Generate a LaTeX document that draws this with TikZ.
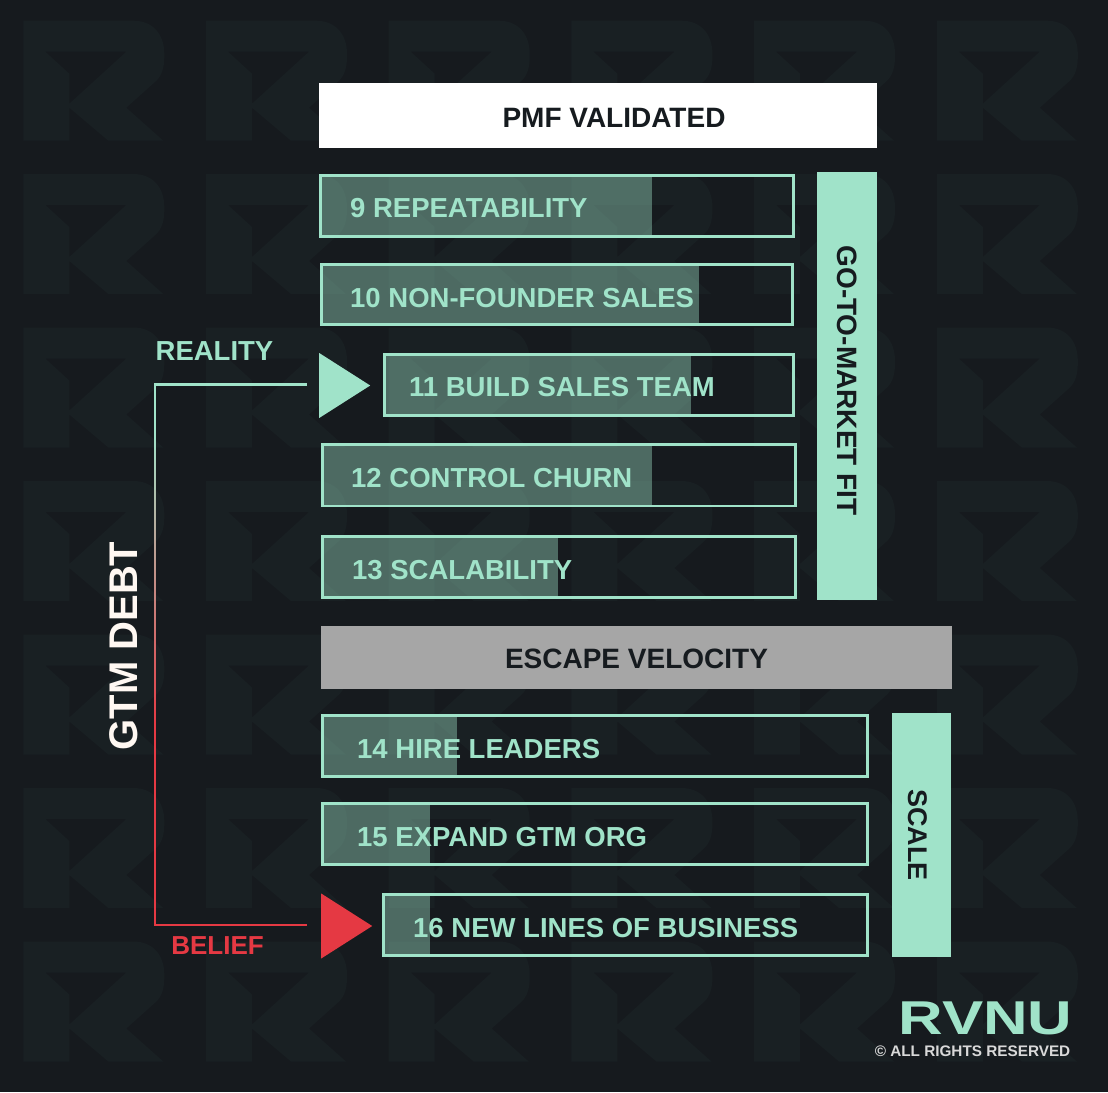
\documentclass[tikz,border=0pt]{standalone}
\usepackage{fontspec}
\setmainfont{Liberation Sans}
\usetikzlibrary{positioning, calc, shapes.geometric}

\definecolor{pagebg}{HTML}{161A1E}
\definecolor{markbg}{HTML}{192023}
\definecolor{mint}{HTML}{A0E3C9}
\definecolor{beliefred}{HTML}{E53943}
\definecolor{inkdark}{HTML}{161B1F}
\definecolor{offwhite}{HTML}{FFF8F2}
\definecolor{gatebar}{HTML}{A6A6A6}

\newcommand{\labelfont}{\fontsize{27.5}{30}\selectfont\bfseries}

\tikzset{
    progress/.style={fill=mint, fill opacity=0.4},
    barline/.style={draw=mint, line width=2.7pt},
    debtline/.style={line width=2.5pt},
    barlabel/.style={text=mint, font=\labelfont, anchor=west, inner sep=0pt},
    gatelabel/.style={text=inkdark, font=\fontsize{28}{30}\selectfont\bfseries, inner sep=0pt},
    stagebar/.style={fill=mint, draw=none},
    stagelabel/.style={text=inkdark, font=\fontsize{28}{30}\selectfont\bfseries, rotate=-90, inner sep=0pt},
    flagmark/.style={shape=isosceles triangle, isosceles triangle stretches, shape border rotate=0, inner sep=0pt, minimum width=65pt, minimum height=51pt, anchor=lower side},
}

\begin{document}
\begin{tikzpicture}[x=1pt, y=-1pt]
    \useasboundingbox (0,0) rectangle (1108,1092);
    \fill[pagebg] (0,0) rectangle (1108,1092);

    % Watermark
    \foreach \x in {23.3, 206, 388.7, 571.4, 754, 936.8} {
        \foreach \y in {20.7, 174, 327.5, 481, 634.5, 788, 941.5} {
            \begin{scope}[shift={(\x,\y)}]
                \fill[markbg, even odd rule] (0,0) -- (110,0) .. controls (130,0) and (141,14) .. (141,33) -- (141,36)
                    .. controls (141,46) and (139,55) .. (132,61) -- (103,87) -- (140,120) -- (85,120) -- (46,87) -- (46,120) -- (0,120) -- cycle
                    (22,31) -- (103,31) -- (46,83) -- (46,53) -- cycle;
            \end{scope}
        }
    }

    % Top gate
    \fill[white] (319,83) rectangle (877,148);
    \node[gatelabel] (pmfvalidated) at (614,117.5) {PMF VALIDATED};

    % Go-to-market bars
    \fill[progress] (320.5,175.5) rectangle (652,236.2); \draw[barline] (320.5,175.5) rectangle (793.5,236.2); \node[barlabel] (repeatability) at (350,208.5) {9 REPEATABILITY};
    \fill[progress] (321.2,264.8) rectangle (699,324.2); \draw[barline] (321.2,264.8) rectangle (792.5,324.2); \node[barlabel] (nonfounder) at (350,298) {10 NON-FOUNDER SALES};
    \fill[progress] (384.2,354.2) rectangle (691,415.2); \draw[barline] (384.2,354.2) rectangle (793.5,415.2); \node[barlabel] (salesteam) at (409,387) {11 BUILD SALES TEAM};
    \fill[progress] (322.8,444.5) rectangle (652,506); \draw[barline] (322.8,444.5) rectangle (795.5,506); \node[barlabel] (churn) at (351,478) {12 CONTROL CHURN};
    \fill[progress] (322.8,536.5) rectangle (558,597.8); \draw[barline] (322.8,536.5) rectangle (795.5,597.8); \node[barlabel] (scalability) at (352,570) {13 SCALABILITY};

    \fill[stagebar] (817,172) rectangle (877,600);
    \node[stagelabel] (gotomarket) at (847,380.5) {GO-TO-MARKET FIT};

    % Middle gate
    \fill[gatebar] (321,626) rectangle (952,689);
    \node[gatelabel] (escape) at (636.5,658.5) {ESCAPE VELOCITY};

    % Scale bars
    \fill[progress] (322.8,715.5) rectangle (457,776.8); \draw[barline] (322.8,715.5) rectangle (867.2,776.8); \node[barlabel] (leaders) at (357,749) {14 HIRE LEADERS};
    \fill[progress] (322.8,803.5) rectangle (430,864.2); \draw[barline] (322.8,803.5) rectangle (867.2,864.2); \node[barlabel] (gtmorg) at (357,837) {15 EXPAND GTM ORG};
    \fill[progress] (383.2,894.8) rectangle (430,955.2); \draw[barline] (383.2,894.8) rectangle (867.2,955.2); \node[barlabel] (newlines) at (413,928) {16 NEW LINES OF BUSINESS};

    \fill[stagebar] (892,713) rectangle (951,957);
    \node[stagelabel, font=\fontsize{27}{30}\selectfont\bfseries] (scale) at (918,835) {SCALE};

    % Debt connector
    \node[flagmark, fill=mint] (realitymark) at (319,385.5) {};
    \node[flagmark, fill=beliefred] (beliefmark) at (321,926) {};
    \coordinate[left=12.5pt of realitymark.lower side] (realityend);
    \coordinate[left=14.5pt of beliefmark.lower side] (beliefend);
    \coordinate (topcorner) at (155,384.5);
    \coordinate (bottomcorner) at (155,925);
    \coordinate (fadestart) at (155,430);
    \coordinate (fadeend) at (155,730);
    \draw[mint, debtline] (realityend |- topcorner) -- (topcorner) -- (fadestart);
    \foreach \i in {0,...,29} {
        \pgfmathsetmacro{\share}{100-100*\i/29}
        \draw[mint!\share!beliefred, debtline] ($(fadestart)!{\i/30}!(fadeend)$) -- ($(fadestart)!{(\i+1.2)/30}!(fadeend)$);
    }
    \draw[beliefred, debtline] (fadeend) -- (bottomcorner) -- (beliefend |- bottomcorner);

    \node[barlabel, anchor=center, font=\fontsize{27.5}{30}\selectfont\bfseries] (reality) at (214.5,351) {REALITY};
    \node[barlabel, anchor=center, text=beliefred, font=\fontsize{26}{30}\selectfont\bfseries] (belief) at (217.5,946) {BELIEF};
    \node[text=offwhite, font=\fontsize{40}{44}\selectfont\bfseries, rotate=90, inner sep=0pt] (gtmdebt) at (124,646) {GTM DEBT};

    % Logo
    \node[text=mint, font=\fontsize{47.5}{50}\selectfont\bfseries, inner sep=0pt] (logo) at (985.5,1018) {\scalebox{1.3}[1]{RVNU}};
    \node[text=white!85!black, font=\fontsize{15.3}{18}\selectfont\bfseries, inner sep=0pt] (rights) at (972.5,1051) {© ALL RIGHTS RESERVED};
\end{tikzpicture}
\end{document}
